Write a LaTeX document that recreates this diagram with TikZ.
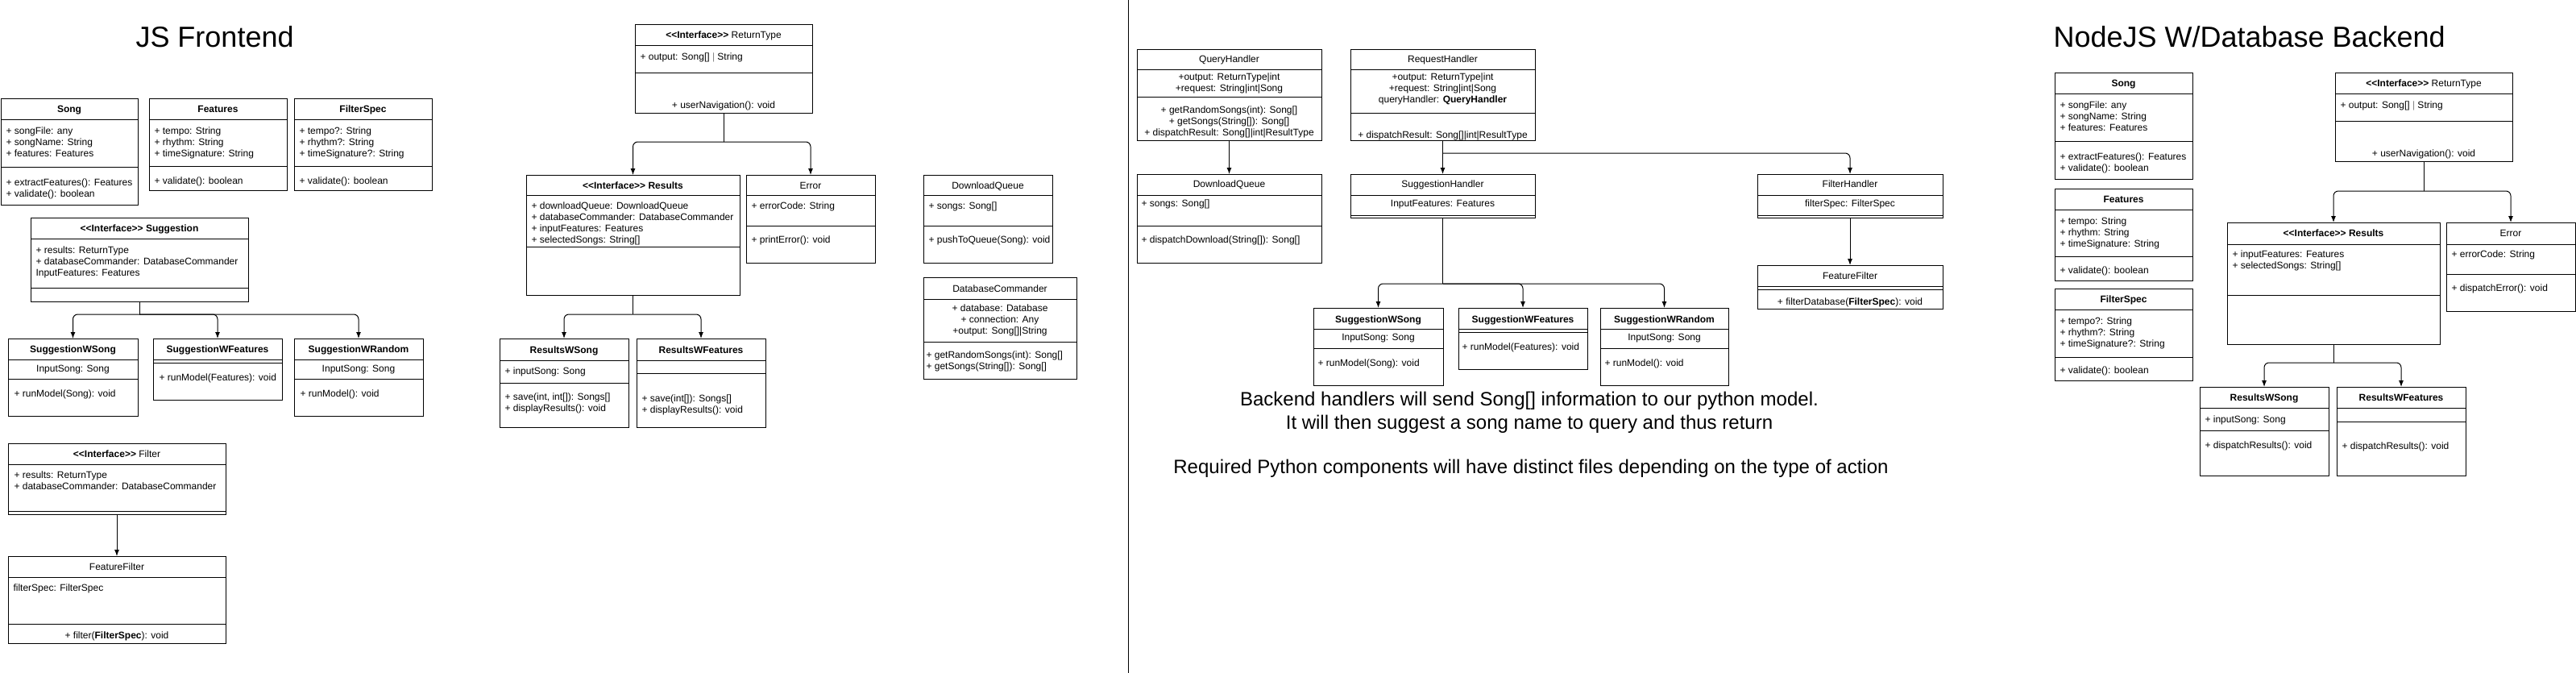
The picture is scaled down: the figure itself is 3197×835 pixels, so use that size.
\documentclass[tikz,border=0pt]{standalone}
\usepackage{fontspec}
\setmainfont{Liberation Sans}
\usetikzlibrary{arrows.meta}

\newcommand{\stereo}{<\kern0pt<Interface>\kern0pt>}

\begin{document}
\begin{tikzpicture}[x=1pt, y=-1pt, line width=1pt,
  cls/.style={draw, rectangle, anchor=north west, inner sep=0pt, outer sep=0pt},
  ttl/.style={anchor=base, inner sep=0pt, font=\fontsize{12}{14}\selectfont\bfseries},
  ttn/.style={anchor=base, inner sep=0pt, font=\fontsize{12}{14}\selectfont},
  lft/.style={anchor=base west, inner sep=0pt, align=left, font=\fontsize{12}{14}\selectfont},
  ctr/.style={anchor=base, inner sep=0pt, align=center, font=\fontsize{12}{14}\selectfont},
  big/.style={anchor=base west, inner sep=0pt, font=\fontsize{36}{43}\selectfont},
  note/.style={anchor=base, inner sep=0pt, font=\fontsize{24}{29}\selectfont},
  arr/.style={-{Latex[length=8pt,width=6pt]}, rounded corners=6pt}]
\useasboundingbox (0,0) rectangle (3197,835);

% JS frontend
\node[big] (fe-title) at (168,58) {JS Frontend};

\node[cls, minimum width=170pt, minimum height=132pt] (song) at (1,122) {};
\draw ([yshift=-26pt]song.north west) -- ([yshift=-26pt]song.north east);
\draw ([yshift=-85pt]song.north west) -- ([yshift=-85pt]song.north east);
\node[ttl] (song-t) at ([yshift=-17.5pt]song.north) {Song};
\node[lft] (song-a) at ([shift={(6,72)}]song.north west) {+ songFile: any\\+ songName: String\\+ features: Features};
\node[lft] (song-m) at ([shift={(6,122)}]song.north west) {+ extractFeatures(): Features\\+ validate(): boolean};

\node[cls, minimum width=171pt, minimum height=114pt] (feat) at (185,122) {};
\draw ([yshift=-26pt]feat.north west) -- ([yshift=-26pt]feat.north east);
\draw ([yshift=-84pt]feat.north west) -- ([yshift=-84pt]feat.north east);
\node[ttl] (feat-t) at ([yshift=-17.5pt]feat.north) {Features};
\node[lft] (feat-a) at ([shift={(6,72)}]feat.north west) {+ tempo: String\\+ rhythm: String\\+ timeSignature: String};
\node[lft] (feat-m) at ([shift={(6,106)}]feat.north west) {+ validate(): boolean};

\node[cls, minimum width=171pt, minimum height=114pt] (fspec) at (365,122) {};
\draw ([yshift=-26pt]fspec.north west) -- ([yshift=-26pt]fspec.north east);
\draw ([yshift=-84pt]fspec.north west) -- ([yshift=-84pt]fspec.north east);
\node[ttl] (fspec-t) at ([yshift=-17.5pt]fspec.north) {FilterSpec};
\node[lft] (fspec-a) at ([shift={(6,72)}]fspec.north west) {+ tempo?: String\\+ rhythm?: String\\+ timeSignature?: String};
\node[lft] (fspec-m) at ([shift={(6,106)}]fspec.north west) {+ validate(): boolean};

\node[cls, minimum width=270pt, minimum height=104pt] (sugg) at (38,270) {};
\draw ([yshift=-26pt]sugg.north west) -- ([yshift=-26pt]sugg.north east);
\draw ([yshift=-87pt]sugg.north west) -- ([yshift=-87pt]sugg.north east);
\node[ttl] (sugg-t) at ([yshift=-17.5pt]sugg.north) {\stereo{} Suggestion};
\node[lft] (sugg-a) at ([shift={(6,72)}]sugg.north west) {+ results: ReturnType\\+ databaseCommander: DatabaseCommander\\InputFeatures: Features};

\node[cls, minimum width=161pt, minimum height=96pt] (sws) at (10,420) {};
\draw ([yshift=-26pt]sws.north west) -- ([yshift=-26pt]sws.north east);
\draw ([yshift=-50pt]sws.north west) -- ([yshift=-50pt]sws.north east);
\node[ttl] (sws-t) at ([yshift=-17.5pt]sws.north) {SuggestionWSong};
\node[ctr] (sws-a) at ([yshift=-41pt]sws.north) {InputSong: Song};
\node[lft] (sws-m) at ([shift={(7,72)}]sws.north west) {+ runModel(Song): void};

\node[cls, minimum width=160pt, minimum height=76pt] (swf) at (190,420) {};
\draw ([yshift=-26pt]swf.north west) -- ([yshift=-26pt]swf.north east);
\draw ([yshift=-30pt]swf.north west) -- ([yshift=-30pt]swf.north east);
\node[ttl] (swf-t) at ([yshift=-17.5pt]swf.north) {SuggestionWFeatures};
\node[lft] (swf-m) at ([shift={(7,52)}]swf.north west) {+ runModel(Features): void};

\node[cls, minimum width=160pt, minimum height=96pt] (swr) at (365,420) {};
\draw ([yshift=-26pt]swr.north west) -- ([yshift=-26pt]swr.north east);
\draw ([yshift=-50pt]swr.north west) -- ([yshift=-50pt]swr.north east);
\node[ttl] (swr-t) at ([yshift=-17.5pt]swr.north) {SuggestionWRandom};
\node[ctr] (swr-a) at ([yshift=-41pt]swr.north) {InputSong: Song};
\node[lft] (swr-m) at ([shift={(7,72)}]swr.north west) {+ runModel(): void};

\draw (sugg.south) -- ++(0,16) coordinate (sugg-j);
\draw[arr] (sugg-j) -| (sws.north);
\draw[arr] (sugg-j) -| (swf.north);
\draw[arr] (sugg-j) -| (swr.north);

\node[cls, minimum width=270pt, minimum height=88pt] (filt) at (10,550) {};
\draw ([yshift=-26pt]filt.north west) -- ([yshift=-26pt]filt.north east);
\draw ([yshift=-84pt]filt.north west) -- ([yshift=-84pt]filt.north east);
\node[ttn] (filt-t) at ([yshift=-17.5pt]filt.north) {\textbf{\stereo} Filter};
\node[lft] (filt-a) at ([shift={(7,57.5)}]filt.north west) {+ results: ReturnType\\+ databaseCommander: DatabaseCommander};

\node[cls, minimum width=270pt, minimum height=108pt] (ffilt) at (10,690) {};
\draw ([yshift=-26pt]ffilt.north west) -- ([yshift=-26pt]ffilt.north east);
\draw ([yshift=-84pt]ffilt.north west) -- ([yshift=-84pt]ffilt.north east);
\node[ttn] (ffilt-t) at ([yshift=-17.5pt]ffilt.north) {FeatureFilter};
\node[lft] (ffilt-a) at ([shift={(6,43.5)}]ffilt.north west) {filterSpec: FilterSpec};
\node[ctr] (ffilt-m) at ([yshift=-102.5pt]ffilt.north) {+ filter(\textbf{FilterSpec}): void};

\draw[arr] (filt.south) -- (ffilt.north);

\node[cls, minimum width=220pt, minimum height=110pt] (rtype) at (788,30) {};
\draw ([yshift=-26pt]rtype.north west) -- ([yshift=-26pt]rtype.north east);
\draw ([yshift=-60pt]rtype.north west) -- ([yshift=-60pt]rtype.north east);
\node[ttn] (rtype-t) at ([yshift=-17.5pt]rtype.north) {\textbf{\stereo} ReturnType};
\node[lft] (rtype-a) at ([shift={(6,44)}]rtype.north west) {+ output: Song[] \textcolor{gray}{|} String};
\node[ctr] (rtype-m) at ([yshift=-104.7pt]rtype.north) {+ userNavigation(): void};

\node[cls, minimum width=265pt, minimum height=149pt] (res) at (653,217) {};
\draw ([yshift=-25pt]res.north west) -- ([yshift=-25pt]res.north east);
\draw ([yshift=-89pt]res.north west) -- ([yshift=-89pt]res.north east);
\node[ttl] (res-t) at ([yshift=-17pt]res.north) {\stereo{} Results};
\node[lft] (res-a) at ([shift={(6,84.7)}]res.north west) {+ downloadQueue: DownloadQueue\\+ databaseCommander: DatabaseCommander\\+ inputFeatures: Features\\+ selectedSongs: String[]};

\node[cls, minimum width=160pt, minimum height=109pt] (err) at (926,217) {};
\draw ([yshift=-25pt]err.north west) -- ([yshift=-25pt]err.north east);
\draw ([yshift=-63pt]err.north west) -- ([yshift=-63pt]err.north east);
\node[ttn] (err-t) at ([yshift=-17pt]err.north) {Error};
\node[lft] (err-a) at ([shift={(6,42.7)}]err.north west) {+ errorCode: String};
\node[lft] (err-m) at ([shift={(6,84.7)}]err.north west) {+ printError(): void};

\draw (rtype.south) -- ++(0,36) coordinate (rtype-j);
\draw[arr] (rtype-j) -| (res.north);
\draw[arr] (rtype-j) -| (err.north);

\node[cls, minimum width=160pt, minimum height=109pt] (dq) at (1146,217) {};
\draw ([yshift=-25pt]dq.north west) -- ([yshift=-25pt]dq.north east);
\draw ([yshift=-63pt]dq.north west) -- ([yshift=-63pt]dq.north east);
\node[ttn] (dq-t) at ([yshift=-17pt]dq.north) {DownloadQueue};
\node[lft] (dq-a) at ([shift={(6,42.7)}]dq.north west) {+ songs: Song[]};
\node[lft] (dq-m) at ([shift={(6,84.7)}]dq.north west) {+ pushToQueue(Song): void};

\node[cls, minimum width=190pt, minimum height=126pt] (dbc) at (1146,344) {};
\draw ([yshift=-27pt]dbc.north west) -- ([yshift=-27pt]dbc.north east);
\draw ([yshift=-80pt]dbc.north west) -- ([yshift=-80pt]dbc.north east);
\node[ttn] (dbc-t) at ([yshift=-18.5pt]dbc.north) {DatabaseCommander};
\node[ctr] (dbc-a) at ([yshift=-70.3pt]dbc.north) {+ database: Database\\+ connection: Any\\+output: Song[]|String};
\node[lft] (dbc-m) at ([shift={(3,114)}]dbc.north west) {+ getRandomSongs(int): Song[]\\+ getSongs(String[]): Song[]};

\node[cls, minimum width=160pt, minimum height=110pt] (rws) at (620,420) {};
\draw ([yshift=-27pt]rws.north west) -- ([yshift=-27pt]rws.north east);
\draw ([yshift=-55pt]rws.north west) -- ([yshift=-55pt]rws.north east);
\node[ttl] (rws-t) at ([yshift=-18.3pt]rws.north) {ResultsWSong};
\node[lft] (rws-a) at ([shift={(6,44)}]rws.north west) {+ inputSong: Song};
\node[lft] (rws-m) at ([shift={(6,90.3)}]rws.north west) {+ save(int, int[]): Songs[]\\+ displayResults(): void};

\node[cls, minimum width=160pt, minimum height=110pt] (rwf) at (790,420) {};
\draw ([yshift=-27pt]rwf.north west) -- ([yshift=-27pt]rwf.north east);
\draw ([yshift=-43pt]rwf.north west) -- ([yshift=-43pt]rwf.north east);
\node[ttl] (rwf-t) at ([yshift=-18.3pt]rwf.north) {ResultsWFeatures};
\node[lft] (rwf-m) at ([shift={(6,92.3)}]rwf.north west) {+ save(int[]): Songs[]\\+ displayResults(): void};

\draw (res.south) -- ++(0,24) coordinate (res-j);
\draw[arr] (res-j) -| (rws.north);
\draw[arr] (res-j) -| (rwf.north);

% separator
\coordinate (sep-top) at (1400,0);
\coordinate (sep-bot) at (1400,835);
\draw (sep-top) -- (sep-bot);

% backend handlers
\node[cls, minimum width=229pt, minimum height=113pt] (qh) at (1411,61) {};
\draw ([yshift=-25pt]qh.north west) -- ([yshift=-25pt]qh.north east);
\draw ([yshift=-59pt]qh.north west) -- ([yshift=-59pt]qh.north east);
\node[ttn] (qh-t) at ([yshift=-16.7pt]qh.north) {QueryHandler};
\node[ctr] (qh-a) at ([yshift=-52.7pt]qh.north) {+output: ReturnType|int\\+request: String|int|Song};
\node[ctr] (qh-m) at ([yshift=-107.7pt]qh.north) {+ getRandomSongs(int): Song[]\\+ getSongs(String[]): Song[]\\+ dispatchResult: Song[]|int|ResultType};

\node[cls, minimum width=229pt, minimum height=113pt] (rqh) at (1676,61) {};
\draw ([yshift=-25pt]rqh.north west) -- ([yshift=-25pt]rqh.north east);
\draw ([yshift=-79pt]rqh.north west) -- ([yshift=-79pt]rqh.north east);
\node[ttn] (rqh-t) at ([yshift=-16.7pt]rqh.north) {RequestHandler};
\node[ctr] (rqh-a) at ([yshift=-66.7pt]rqh.north) {+output: ReturnType|int\\+request: String|int|Song\\queryHandler: \textbf{QueryHandler}};
\node[ctr] (rqh-m) at ([yshift=-110.7pt]rqh.north) {+ dispatchResult: Song[]|int|ResultType};

\node[cls, minimum width=229pt, minimum height=110pt] (dqb) at (1411,216) {};
\draw ([yshift=-26pt]dqb.north west) -- ([yshift=-26pt]dqb.north east);
\draw ([yshift=-64pt]dqb.north west) -- ([yshift=-64pt]dqb.north east);
\node[ttn] (dqb-t) at ([yshift=-16.5pt]dqb.north) {DownloadQueue};
\node[lft] (dqb-a) at ([shift={(5,40.3)}]dqb.north west) {+ songs: Song[]};
\node[lft] (dqb-m) at ([shift={(5,85.3)}]dqb.north west) {+ dispatchDownload(String[]): Song[]};

\draw[arr] (qh.south) -- (dqb.north);

\node[cls, minimum width=229pt, minimum height=54pt] (sgh) at (1676,216) {};
\draw ([yshift=-26pt]sgh.north west) -- ([yshift=-26pt]sgh.north east);
\draw ([yshift=-51pt]sgh.north west) -- ([yshift=-51pt]sgh.north east);
\node[ttn] (sgh-t) at ([yshift=-16.5pt]sgh.north) {SuggestionHandler};
\node[ctr] (sgh-a) at ([yshift=-40.3pt]sgh.north) {InputFeatures: Features};

\node[cls, minimum width=230pt, minimum height=54pt] (flh) at (2181,216) {};
\draw ([yshift=-26pt]flh.north west) -- ([yshift=-26pt]flh.north east);
\draw ([yshift=-51pt]flh.north west) -- ([yshift=-51pt]flh.north east);
\node[ttn] (flh-t) at ([yshift=-16.5pt]flh.north) {FilterHandler};
\node[ctr] (flh-a) at ([yshift=-40.3pt]flh.north) {filterSpec: FilterSpec};

\draw[arr] (rqh.south) -- (sgh.north);
\coordinate (rqh-j) at ([yshift=-16pt]rqh.south);
\draw[arr] (rqh-j) -| (flh.north);

\node[cls, minimum width=230pt, minimum height=54pt] (ffb) at (2181,329) {};
\draw ([yshift=-26pt]ffb.north west) -- ([yshift=-26pt]ffb.north east);
\draw ([yshift=-30pt]ffb.north west) -- ([yshift=-30pt]ffb.north east);
\node[ttn] (ffb-t) at ([yshift=-17.3pt]ffb.north) {FeatureFilter};
\node[ctr] (ffb-m) at ([yshift=-49pt]ffb.north) {+ filterDatabase(\textbf{FilterSpec}): void};

\draw[arr] (flh.south) -- (ffb.north);

\node[cls, minimum width=161pt, minimum height=96pt] (swsb) at (1630,382) {};
\draw ([yshift=-26pt]swsb.north west) -- ([yshift=-26pt]swsb.north east);
\draw ([yshift=-50pt]swsb.north west) -- ([yshift=-50pt]swsb.north east);
\node[ttl] (swsb-t) at ([yshift=-18pt]swsb.north) {SuggestionWSong};
\node[ctr] (swsb-a) at ([yshift=-40.7pt]swsb.north) {InputSong: Song};
\node[lft] (swsb-m) at ([shift={(5,72)}]swsb.north west) {+ runModel(Song): void};

\node[cls, minimum width=160pt, minimum height=76pt] (swfb) at (1810,382) {};
\draw ([yshift=-26pt]swfb.north west) -- ([yshift=-26pt]swfb.north east);
\draw ([yshift=-30pt]swfb.north west) -- ([yshift=-30pt]swfb.north east);
\node[ttl] (swfb-t) at ([yshift=-18pt]swfb.north) {SuggestionWFeatures};
\node[lft] (swfb-m) at ([shift={(4,52)}]swfb.north west) {+ runModel(Features): void};

\node[cls, minimum width=159pt, minimum height=96pt] (swrb) at (1986,382) {};
\draw ([yshift=-26pt]swrb.north west) -- ([yshift=-26pt]swrb.north east);
\draw ([yshift=-50pt]swrb.north west) -- ([yshift=-50pt]swrb.north east);
\node[ttl] (swrb-t) at ([yshift=-18pt]swrb.north) {SuggestionWRandom};
\node[ctr] (swrb-a) at ([yshift=-40.7pt]swrb.north) {InputSong: Song};
\node[lft] (swrb-m) at ([shift={(5,72)}]swrb.north west) {+ runModel(): void};

\draw (sgh.south) -- ++(0,82) coordinate (sgh-j);
\draw[arr] (sgh-j) -| (swsb.north);
\draw[arr] (sgh-j) -| (swfb.north);
\draw[arr] (sgh-j) -| (swrb.north);

\node[note] (note-1) at (1898,503.5) {Backend handlers will send Song[] information to our python model.};
\node[note] (note-2) at (1898,532) {It will then suggest a song name to query and thus return};
\node[note] (note-3) at (1900,587) {Required Python components will have distinct files depending on the type of action};

% NodeJS backend
\node[big] (be-title) at (2548,58.3) {NodeJS W/Database Backend};

\node[cls, minimum width=171pt, minimum height=132pt] (songb) at (2550,90) {};
\draw ([yshift=-26pt]songb.north west) -- ([yshift=-26pt]songb.north east);
\draw ([yshift=-85pt]songb.north west) -- ([yshift=-85pt]songb.north east);
\node[ttl] (songb-t) at ([yshift=-17.5pt]songb.north) {Song};
\node[lft] (songb-a) at ([shift={(6,72)}]songb.north west) {+ songFile: any\\+ songName: String\\+ features: Features};
\node[lft] (songb-m) at ([shift={(6,122)}]songb.north west) {+ extractFeatures(): Features\\+ validate(): boolean};

\node[cls, minimum width=171pt, minimum height=114pt] (featb) at (2550,234) {};
\draw ([yshift=-26pt]featb.north west) -- ([yshift=-26pt]featb.north east);
\draw ([yshift=-84pt]featb.north west) -- ([yshift=-84pt]featb.north east);
\node[ttl] (featb-t) at ([yshift=-17.5pt]featb.north) {Features};
\node[lft] (featb-a) at ([shift={(6,72)}]featb.north west) {+ tempo: String\\+ rhythm: String\\+ timeSignature: String};
\node[lft] (featb-m) at ([shift={(6,105)}]featb.north west) {+ validate(): boolean};

\node[cls, minimum width=171pt, minimum height=114pt] (fspecb) at (2550,358) {};
\draw ([yshift=-26pt]fspecb.north west) -- ([yshift=-26pt]fspecb.north east);
\draw ([yshift=-85pt]fspecb.north west) -- ([yshift=-85pt]fspecb.north east);
\node[ttl] (fspecb-t) at ([yshift=-17.5pt]fspecb.north) {FilterSpec};
\node[lft] (fspecb-a) at ([shift={(6,72)}]fspecb.north west) {+ tempo?: String\\+ rhythm?: String\\+ timeSignature?: String};
\node[lft] (fspecb-m) at ([shift={(6,105)}]fspecb.north west) {+ validate(): boolean};

\node[cls, minimum width=220pt, minimum height=110pt] (rtypeb) at (2898,90) {};
\draw ([yshift=-26pt]rtypeb.north west) -- ([yshift=-26pt]rtypeb.north east);
\draw ([yshift=-60pt]rtypeb.north west) -- ([yshift=-60pt]rtypeb.north east);
\node[ttn] (rtypeb-t) at ([yshift=-17.5pt]rtypeb.north) {\textbf{\stereo} ReturnType};
\node[lft] (rtypeb-a) at ([shift={(6,44)}]rtypeb.north west) {+ output: Song[] \textcolor{gray}{|} String};
\node[ctr] (rtypeb-m) at ([yshift=-104.5pt]rtypeb.north) {+ userNavigation(): void};

\node[cls, minimum width=264pt, minimum height=151pt] (resb) at (2764,276) {};
\draw ([yshift=-27pt]resb.north west) -- ([yshift=-27pt]resb.north east);
\draw ([yshift=-90pt]resb.north west) -- ([yshift=-90pt]resb.north east);
\node[ttl] (resb-t) at ([yshift=-17.5pt]resb.north) {\stereo{} Results};
\node[lft] (resb-a) at ([shift={(6,57.5)}]resb.north west) {+ inputFeatures: Features\\+ selectedSongs: String[]};

\node[cls, minimum width=160pt, minimum height=110pt] (errb) at (3036,276) {};
\draw ([yshift=-27pt]errb.north west) -- ([yshift=-27pt]errb.north east);
\draw ([yshift=-64pt]errb.north west) -- ([yshift=-64pt]errb.north east);
\node[ttn] (errb-t) at ([yshift=-17.5pt]errb.north) {Error};
\node[lft] (errb-a) at ([shift={(6,43.5)}]errb.north west) {+ errorCode: String};
\node[lft] (errb-m) at ([shift={(6,85)}]errb.north west) {+ dispatchError(): void};

\draw (rtypeb.south) -- ++(0,37) coordinate (rtypeb-j);
\draw[arr] (rtypeb-j) -| (resb.north);
\draw[arr] (rtypeb-j) -| (errb.north);

\node[cls, minimum width=160pt, minimum height=110pt] (rwsb) at (2730,480) {};
\draw ([yshift=-26pt]rwsb.north west) -- ([yshift=-26pt]rwsb.north east);
\draw ([yshift=-54pt]rwsb.north west) -- ([yshift=-54pt]rwsb.north east);
\node[ttl] (rwsb-t) at ([yshift=-17.5pt]rwsb.north) {ResultsWSong};
\node[lft] (rwsb-a) at ([shift={(6,44)}]rwsb.north west) {+ inputSong: Song};
\node[lft] (rwsb-m) at ([shift={(6,76)}]rwsb.north west) {+ dispatchResults(): void};

\node[cls, minimum width=160pt, minimum height=110pt] (rwfb) at (2900,480) {};
\draw ([yshift=-26pt]rwfb.north west) -- ([yshift=-26pt]rwfb.north east);
\draw ([yshift=-43pt]rwfb.north west) -- ([yshift=-43pt]rwfb.north east);
\node[ttl] (rwfb-t) at ([yshift=-17.5pt]rwfb.north) {ResultsWFeatures};
\node[lft] (rwfb-m) at ([shift={(6,77)}]rwfb.north west) {+ dispatchResults(): void};

\draw (resb.south) -- ++(0,23) coordinate (resb-j);
\draw[arr] (resb-j) -| (rwsb.north);
\draw[arr] (resb-j) -| (rwfb.north);

\end{tikzpicture}
\end{document}
